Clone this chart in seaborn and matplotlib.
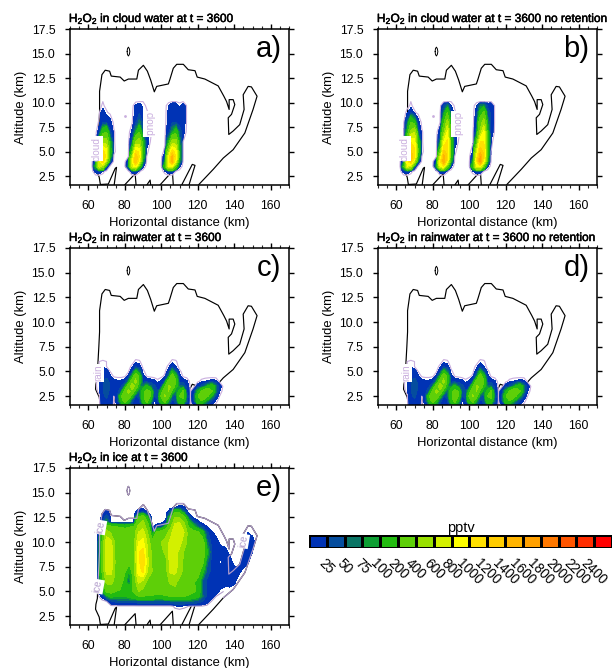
import numpy as np
import matplotlib
matplotlib.use('Agg')
import matplotlib.pyplot as plt
import matplotlib.patheffects as pe
from matplotlib.colors import ListedColormap
import seaborn as sns

# colour bar
box_labels = ['25', '50', '75', '100', '200', '400', '600', '800', '1000', '1200',
              '1400', '1600', '1800', '2000', '2200', '2400']
box_values = [25, 50, 75, 100, 200, 400, 600, 800, 1000, 1200, 1400, 1600, 1800, 2000, 2200, 2400]
box_colors = ['#0033b5', '#054d9e', '#0a7565', '#0d9f33', '#22bb10', '#5ecf08', '#99e000', '#d3f000',
              '#ffff00', '#ffe000', '#ffcc00', '#ffb400', '#ffa000', '#ff7800', '#ff5500', '#ff2d00', '#ff0000']

# black outline of the cloud
edge_x = [66.6, 66.0, 64.0, 64.2, 65.0, 65.2, 65.8, 66.2, 66.2, 67.5, 69.3, 71.7, 72.6, 77.5, 79.7, 82.0, 86.6,
          87.5, 90.2, 92.4, 94.2, 96.2, 97.5, 103.9, 104.8, 106.6, 108.5, 112.1, 114.8, 118.5, 119.7, 123.9,
          131.2, 134.3, 135.8, 137.2, 137.2, 139.4, 140.3, 138.5, 136.7, 137.0, 139.4, 143.0, 145.4, 144.9,
          147.6, 149.4, 152.5, 150.3, 145.8, 139.4, 134.0, 128.5, 120.6]
edge_y = [1.7, 2.4, 3.2, 3.7, 4.3, 5.5, 7.5, 9.0, 11.15, 12.85, 13.3, 13.2, 12.7, 12.6, 12.2, 12.4, 12.4,
          13.3, 13.8, 13.2, 12.3, 11.1, 11.65, 11.9, 12.4, 13.5, 13.9, 13.9, 13.35, 13.25, 12.6, 12.4,
          11.7, 10.65, 10.1, 9.3, 10.3, 10.3, 9.8, 8.8, 8.45, 6.75, 7.1, 7.75, 9.3, 10.8,
          11.65, 11.6, 10.65, 9.3, 6.9, 5.2, 4.35, 3.2, 1.65]
hump_x = [[66.6, 71.0, 74.8, 75.5, 74.2], [79.9, 85.7, 86.2], [92.1, 93.9, 94.2], [99.3, 106.1, 106.6],
          [111.2, 117.0, 118.5, 115.2]]
hump_y = [[1.65, 1.7, 3.3, 3.4, 1.6], [1.6, 2.75, 1.6], [1.6, 2.1, 1.6], [1.6, 3.0, 1.6],
          [1.6, 3.7, 3.6, 1.6]]
loop_x = [81.3, 81.5, 82.0, 82.5, 82.8, 82.5, 82.0, 81.5, 81.3]
loop_y = [15.2, 15.5, 15.65, 15.5, 15.2, 14.9, 14.75, 14.9, 15.2]

# cloud water, pptv
cloud_x = [62, 64, 66, 68, 70, 72, 74, 76, 78, 80, 82, 84, 86, 88, 90, 92, 94, 96, 98, 100, 102, 104, 106, 108,
           110, 112, 114, 116]
cloud_z = [2.5, 3, 3.5, 4, 4.5, 5, 6, 7, 8, 9, 9.7, 10.1, 10.4]
cloud_a = [
    [0] * 28,
    [0, 12, 18, 6, 0, 0, 0, 0, 0, 0, 0, 14, 18, 4, 0, 0, 0, 0, 0, 0, 6, 18, 14, 3, 0, 0, 0, 0],
    [0, 100, 700, 500, 30, 0, 0, 0, 0, 0, 60, 700, 900, 200, 10, 0, 0, 0, 0, 0, 150, 800, 800, 200, 10, 0, 0, 0],
    [0, 30, 800, 1200, 500, 30, 0, 0, 0, 0, 20, 800, 1400, 800, 80, 1, 0, 0, 0, 0, 60, 900, 1500, 800, 80, 1, 0, 0],
    [0, 10, 700, 1200, 900, 100, 2, 0, 0, 0, 3, 500, 1350, 1000, 120, 3, 0, 0, 0, 0, 20, 800, 1450, 950, 100, 3, 0, 0],
    [0, 5, 400, 1100, 900, 150, 5, 0, 0, 0, 0, 200, 1100, 950, 150, 5, 0, 0, 0, 0, 5, 500, 1150, 900, 100, 3, 0, 0],
    [0, 2, 150, 500, 500, 100, 4, 0, 0, 0, 0, 40, 400, 500, 120, 15, 3, 0, 0, 0, 2, 100, 500, 500, 80, 3, 0, 0],
    [0, 0, 15, 150, 200, 30, 4, 0, 0, 0, 0, 10, 80, 200, 30, 10, 4, 1, 0, 0, 1, 18, 80, 150, 40, 12, 1, 0],
    [0, 0, 4, 20, 18, 12, 1, 0, 0, 0, 0, 2, 18, 60, 15, 4, 4, 1, 0, 0, 0, 12, 20, 20, 18, 15, 2, 0],
    [0, 0, 2, 15, 4, 1, 0, 0, 0, 0, 0, 1, 12, 20, 8, 4, 1, 0, 0, 0, 0, 10, 18, 18, 18, 15, 2, 0],
    [0, 0, 1, 4, 1, 0, 0, 0, 0, 0, 0, 0, 10, 15, 5, 2, 0, 0, 0, 0, 0, 8, 18, 18, 5, 15, 2, 0],
    [0, 0, 0, 3, 3, 0, 0, 0, 0, 0, 0, 0, 2, 3, 3, 1, 0, 0, 0, 0, 0, 1, 3, 3, 2, 3, 1, 0],
    [0] * 28,
]
cloud_b = [
    [0] * 28,
    [0, 12, 18, 6, 0, 0, 0, 0, 0, 0, 0, 14, 18, 4, 0, 0, 0, 0, 0, 0, 6, 18, 14, 3, 0, 0, 0, 0],
    [0, 120, 800, 600, 40, 0, 0, 0, 0, 0, 80, 800, 1000, 250, 10, 0, 0, 0, 0, 0, 180, 850, 900, 250, 10, 0, 0, 0],
    [0, 40, 900, 1300, 600, 40, 0, 0, 0, 0, 25, 900, 1600, 900, 100, 1, 0, 0, 0, 0, 80, 1000, 1700, 900, 100, 1, 0, 0],
    [0, 12, 800, 1350, 1050, 120, 3, 0, 0, 0, 3, 600, 1500, 1150, 150, 3, 0, 0, 0, 0, 25, 900, 1600, 1150, 120, 3, 0, 0],
    [0, 5, 500, 1250, 1050, 180, 5, 0, 0, 0, 0, 250, 1250, 1150, 200, 5, 0, 0, 0, 0, 8, 650, 1350, 1150, 150, 3, 0, 0],
    [0, 2, 300, 1000, 900, 150, 4, 0, 0, 0, 0, 60, 800, 1050, 180, 15, 3, 0, 0, 0, 2, 200, 1000, 1000, 150, 5, 0, 0],
    [0, 0, 100, 450, 600, 40, 4, 0, 0, 0, 0, 15, 350, 850, 100, 12, 4, 1, 0, 0, 1, 40, 450, 850, 120, 18, 1, 0],
    [0, 0, 40, 200, 120, 12, 1, 0, 0, 0, 0, 3, 150, 500, 60, 18, 4, 1, 0, 0, 0, 18, 300, 500, 80, 18, 2, 0],
    [0, 0, 5, 18, 4, 1, 0, 0, 0, 0, 0, 1, 60, 200, 25, 4, 1, 0, 0, 0, 0, 12, 120, 220, 40, 18, 2, 0],
    [0, 0, 1, 4, 1, 0, 0, 0, 0, 0, 0, 0, 20, 60, 8, 2, 0, 0, 0, 0, 0, 8, 60, 70, 18, 18, 2, 0],
    [0, 0, 0, 3, 3, 0, 0, 0, 0, 0, 0, 0, 2, 3, 3, 1, 0, 0, 0, 0, 0, 1, 3, 3, 2, 3, 1, 0],
    [0] * 28,
]
cloud_dot_x = [80]
cloud_dot_y = [8.6]

# rainwater, pptv
rain_x = [62, 64, 66, 68, 70, 72, 74, 76, 78, 80, 82, 84, 86, 88, 90, 92, 94, 96, 98, 100, 102, 104, 106, 108,
          110, 112, 114, 116, 118, 120, 122, 124, 126, 128, 130, 132, 134, 136]
rain_z = [1.4, 2, 2.5, 3, 3.5, 4, 4.5, 5, 5.5, 6, 6.5]
rain_field = [
    [0, 0, 0, 15, 18, 16, 1, 5, 20, 60, 40, 18, 18, 18, 30, 60, 40, 8, 5, 20, 30, 18, 15, 20, 40, 20, 12, 1, 5, 25, 30, 12, 3, 1, 0, 0, 0, 0],
    [0, 0, 1, 20, 22, 15, 2, 15, 120, 250, 120, 30, 18, 20, 120, 250, 100, 6, 20, 150, 250, 80, 20, 30, 150, 150, 30, 2, 25, 150, 200, 100, 40, 20, 5, 0, 0, 0],
    [0, 0, 2, 22, 28, 18, 3, 20, 180, 400, 350, 120, 25, 30, 150, 300, 200, 25, 30, 220, 420, 250, 40, 40, 200, 250, 40, 3, 30, 180, 350, 300, 180, 80, 20, 3, 0, 0],
    [0, 1, 5, 24, 35, 20, 12, 18, 50, 250, 450, 350, 120, 40, 150, 250, 200, 40, 25, 120, 350, 400, 150, 60, 120, 220, 25, 2, 20, 100, 200, 300, 300, 200, 60, 8, 0, 0],
    [0, 1, 8, 24, 40, 22, 18, 18, 22, 60, 300, 500, 350, 80, 60, 120, 60, 30, 18, 25, 180, 420, 380, 120, 60, 50, 18, 1, 1, 15, 30, 60, 120, 150, 60, 15, 1, 0],
    [0, 1, 8, 24, 35, 20, 12, 10, 10, 15, 60, 300, 450, 150, 18, 15, 15, 12, 5, 10, 30, 250, 400, 200, 18, 15, 10, 0, 0, 1, 5, 8, 10, 12, 10, 1, 0, 0],
    [0, 0, 5, 22, 20, 10, 2, 1, 1, 2, 10, 100, 350, 150, 12, 3, 1, 0, 0, 1, 5, 60, 300, 120, 12, 2, 0, 0, 0, 0, 0, 0, 0, 0, 0, 0, 0, 0],
    [0, 0, 3, 18, 15, 3, 0, 0, 0, 0, 2, 18, 120, 60, 5, 0, 0, 0, 0, 0, 1, 15, 100, 40, 5, 0, 0, 0, 0, 0, 0, 0, 0, 0, 0, 0, 0, 0],
    [0, 0, 3, 5, 3, 0, 0, 0, 0, 0, 0, 5, 20, 12, 1, 0, 0, 0, 0, 0, 0, 5, 18, 8, 0, 0, 0, 0, 0, 0, 0, 0, 0, 0, 0, 0, 0, 0],
    [0, 0, 3, 4, 3, 0, 0, 0, 0, 0, 0, 0, 5, 4, 0, 0, 0, 0, 0, 0, 0, 0, 5, 4, 0, 0, 0, 0, 0, 0, 0, 0, 0, 0, 0, 0, 0, 0],
    [0] * 38,
]

# ice, pptv
ice_x = [62.5, 65, 67.5, 70, 72.5, 75, 77.5, 80, 82.5, 85, 87.5, 90, 92.5, 95, 97.5, 100, 102.5, 105, 107.5, 110,
         112.5, 115, 117.5, 120, 122.5, 125, 127.5, 130, 132.5, 135, 137.5, 140, 142.5, 145, 147.5, 150, 152.5, 155]
ice_z = [3, 3.5, 4, 4.5, 5, 6, 7, 8, 9, 10, 11, 11.5, 12, 12.5, 13, 13.5, 14]
ice_field = [
    [0] * 38,
    [0] * 18 + [5, 8, 5, 3, 2, 2, 2] + [0] * 13,
    [0, 0, 0, 3, 20, 30, 35, 35, 35, 35, 40, 40, 40, 40, 40, 40, 40, 40, 50, 50, 50, 45, 45, 35, 25, 15, 3, 0, 0, 0] + [0] * 8,
    [0, 0, 10, 60, 120, 100, 100, 100, 120, 150, 200, 200, 180, 180, 160, 160, 180, 200, 200, 220, 200, 180, 150, 120, 60, 20, 15, 3, 0, 0] + [0] * 8,
    [0, 0, 60, 220, 250, 200, 180, 150, 150, 220, 400, 350, 300, 280, 250, 270, 300, 330, 350, 350, 300, 250, 220, 180, 40, 25, 20, 15, 5, 2] + [0] * 8,
    [0, 0, 150, 450, 480, 320, 300, 120, 40, 250, 650, 550, 350, 300, 280, 320, 350, 420, 450, 350, 300, 280, 220, 160, 50, 20, 18, 18, 18, 15, 18, 12, 0, 0, 0, 0, 0, 0],
    [0, 0, 200, 650, 650, 350, 300, 220, 80, 300, 900, 1050, 600, 400, 320, 300, 320, 650, 650, 500, 320, 300, 300, 280, 120, 40, 18, 18, 18, 18, 18, 18, 12, 2, 0, 0, 0, 0],
    [0, 0, 200, 700, 750, 350, 300, 280, 250, 300, 950, 1150, 650, 380, 320, 300, 330, 700, 720, 520, 350, 320, 320, 300, 250, 60, 20, 18, 5, 18, 18, 0, 3, 18, 10, 1, 0, 0],
    [0, 0, 200, 750, 750, 320, 300, 290, 280, 300, 950, 1100, 600, 350, 300, 350, 450, 720, 700, 550, 380, 320, 320, 300, 300, 120, 25, 18, 18, 15, 3, 0, 0, 5, 18, 8, 1, 0],
    [0, 0, 200, 720, 650, 320, 300, 300, 280, 300, 800, 850, 550, 250, 300, 400, 480, 650, 750, 700, 480, 350, 320, 300, 280, 60, 20, 15, 3, 0, 0, 0, 0, 1, 18, 15, 1, 0],
    [0, 0, 120, 500, 350, 280, 270, 270, 270, 300, 600, 700, 400, 40, 220, 260, 320, 500, 800, 800, 600, 300, 260, 220, 120, 30, 10, 3, 0, 0, 0, 0, 0, 3, 8, 3, 0, 0],
    [0, 0, 80, 300, 250, 220, 200, 180, 200, 250, 450, 550, 300, 5, 20, 40, 150, 350, 700, 720, 500, 200, 120, 60, 30, 10, 1, 0, 0, 0, 0, 0, 0, 0, 1, 0, 0, 0],
    [0, 0, 15, 80, 4, 2, 2, 1, 1, 2, 350, 450, 200, 0, 1, 2, 20, 200, 550, 600, 400, 120, 50, 15, 3, 0, 0, 0, 0, 0] + [0] * 8,
    [0, 0, 10, 40, 3, 0, 0, 0, 0, 1, 220, 300, 100, 0, 0, 0, 1, 120, 400, 400, 250, 40, 3, 0, 0, 0, 0, 0, 0, 0] + [0] * 8,
    [0, 0, 2, 15, 1, 0, 0, 0, 0, 0, 25, 30, 10, 0, 0, 0, 0, 40, 200, 180, 60, 3, 0, 0, 0, 0, 0, 0, 0, 0] + [0] * 8,
    [0] * 18 + [8, 15, 10] + [0] * 17,
    [0] * 38,
]

sns.set_theme(style='ticks')
plt.rcParams['font.family'] = ['Liberation Sans', 'DejaVu Sans']
plt.rcParams['mathtext.fontset'] = 'custom'
plt.rcParams['mathtext.rm'] = 'Liberation Sans'
plt.rcParams['mathtext.default'] = 'regular'

W, H = 612, 668
fig = plt.figure(figsize=(W / 100, H / 100), dpi=100)
purple = '#c9aede'
ice_purple = '#b29dcb'
fill_levels = [8] + box_values + [100000]


def add_panel(left, top, right, bottom):
    return fig.add_axes([left / W, 1 - bottom / H, (right - left) / W, (bottom - top) / H])


def draw_line(ax, x, y, color, lw=0.85, zorder=0.5):
    sns.lineplot(x=x, y=y, sort=False, estimator=None, color=color, linewidth=lw, zorder=zorder, ax=ax)


def draw_panel(rect, x, z, field, title, letter, labels, edge_color=purple, ring_rows=None):
    ax = add_panel(*rect)
    field = np.array(field)
    ax.contourf(x, z, field, levels=fill_levels, colors=box_colors)
    ring_z = np.array(z)[:ring_rows]
    ax.contour(x, ring_z, field[:ring_rows], levels=[3], colors=edge_color, linewidths=0.8)
    draw_line(ax, edge_x, edge_y, 'black')
    for hx, hy in zip(hump_x, hump_y):
        draw_line(ax, hx, hy, 'black')
    draw_line(ax, loop_x, loop_y, 'black', lw=0.7)
    ax.set_xlim(50, 170)
    ax.set_ylim(1.6, 17.5)
    ax.set_xticks([60, 80, 100, 120, 140, 160])
    ax.set_xticks(np.arange(50, 171, 5), minor=True)
    ax.set_yticks([2.5, 5, 7.5, 10, 12.5, 15, 17.5])
    ax.set_yticklabels(['2.5', '5.0', '7.5', '10.0', '12.5', '15.0', '17.5'])
    ax.tick_params(axis='both', which='major', direction='out', length=3.6, width=1.0, labelsize=8.7,
                   top=True, right=True, colors='black')
    ax.tick_params(axis='x', which='major', pad=7)
    ax.tick_params(axis='y', which='major', pad=7)
    ax.tick_params(axis='x', which='minor', direction='out', length=2, width=0.8, top=True)
    for s in ax.spines.values():
        s.set_visible(True)
        s.set_linewidth(1.1)
        s.set_color('black')
    ax.set_xlabel('Horizontal distance (km)', fontsize=9.4, labelpad=3.5, color='black')
    ax.set_ylabel('Altitude (km)', fontsize=9.4, labelpad=3, color='black')
    ttl = ax.set_title(title, loc='left', fontsize=8.55, pad=5, color='black', x=-0.005)
    ttl.set_path_effects([pe.withStroke(linewidth=0.35, foreground='black')])
    ax.text(0.965, 0.82, letter, transform=ax.transAxes, fontsize=21, ha='right', va='baseline', color='black')
    for lx, lz, txt, rot in labels:
        ax.text(lx, lz, txt, rotation=rot, fontsize=7.2, color=edge_color, ha='center', va='center',
                bbox=dict(facecolor='white', edgecolor='none', pad=0.6), zorder=5)
    return ax


cloud_labels = [(64.7, 5.3, 'cloud', 90), (93.0, 7.8, 'cloud', 270)]
rain_labels = [(65.6, 4.85, 'rain', 90)]
ice_labels = [(66.6, 11.5, 'ice', 80), (65.3, 5.5, 'ice', 80), (144.9, 10.1, 'ice', 80)]

ax_a = draw_panel((70, 29, 289, 185), cloud_x, cloud_z, cloud_a, 'H$_2$O$_2$ in cloud water at t = 3600', 'a)', cloud_labels)
ax_b = draw_panel((378, 29, 597, 185), cloud_x, cloud_z, cloud_b, 'H$_2$O$_2$ in cloud water at t = 3600 no retention', 'b)', cloud_labels)
for ax in (ax_a, ax_b):
    sns.scatterplot(x=cloud_dot_x, y=cloud_dot_y, color=purple, s=4, linewidth=0, ax=ax)
draw_panel((70, 248, 289, 405), rain_x, rain_z, rain_field, 'H$_2$O$_2$ in rainwater at t = 3600', 'c)', rain_labels)
draw_panel((378, 248, 597, 405), rain_x, rain_z, rain_field, 'H$_2$O$_2$ in rainwater at t = 3600 no retention', 'd)', rain_labels)
# ice: ring only along the base, the top follows the outline
ax_e = draw_panel((70, 468, 289, 625), ice_x, ice_z, ice_field, 'H$_2$O$_2$ in ice at t = 3600', 'e)', ice_labels,
                  edge_color=ice_purple, ring_rows=5)
draw_line(ax_e, edge_x[5:-2], edge_y[5:-2], ice_purple, zorder=2)
draw_line(ax_e, loop_x, loop_y, ice_purple, lw=0.7, zorder=2)

# colour bar drawn as a one row heatmap
cax = add_panel(309, 535, 612, 548)
sns.heatmap(np.arange(len(box_colors)).reshape(1, -1), cmap=ListedColormap(box_colors), cbar=False,
            linewidths=1, linecolor='black', xticklabels=False, yticklabels=False, ax=cax)
cax.set_xticks(np.arange(1, len(box_colors)))
cax.set_xticklabels(box_labels, rotation=-45, ha='center', va='top', fontsize=9.8, color='black')
cax.tick_params(axis='x', length=0, pad=6)
cax.set_title('pptv', fontsize=10.5, pad=2, color='black')

fig.savefig('out.png', dpi=100)
